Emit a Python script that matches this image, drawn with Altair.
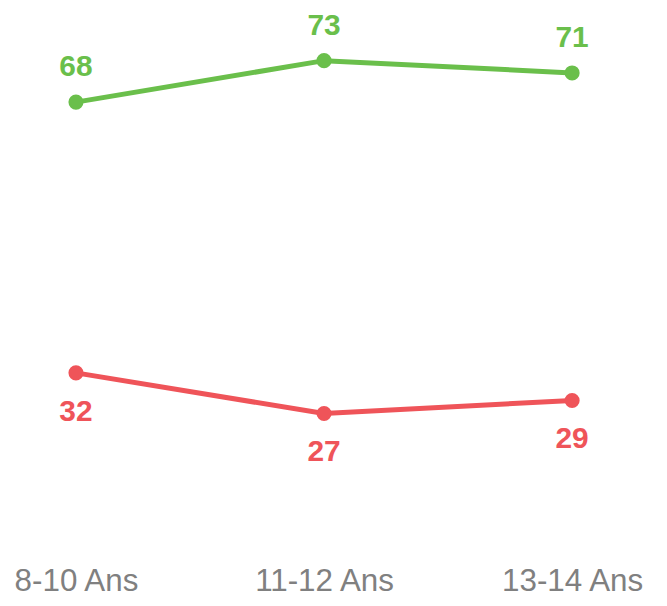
import altair as alt
import pandas as pd

categories = ["8-10 Ans", "11-12 Ans", "13-14 Ans"]
series_names = ["Série 1", "Série 2"]
green_values = [67.6, 73.0, 71.4]
red_values = [32.3, 27.0, 28.7]
colors = ["#6abf4b", "#ef5459"]

rows = []
for c, g, r in zip(categories, green_values, red_values):
    rows.append({"cat": c, "serie": series_names[0], "val": g})
    rows.append({"cat": c, "serie": series_names[1], "val": r})
df = pd.DataFrame(rows)

x = alt.X(
    "cat:N",
    sort=categories,
    scale=alt.Scale(type="point", padding=0.27),
    axis=alt.Axis(
        labelAngle=0, domain=False, ticks=False, tickSize=0, grid=False, title=None,
        labelFontSize=31.5, labelColor="#808080", labelFont="Liberation Sans",
        labelPadding=22,
    ),
)
y = alt.Y("val:Q", scale=alt.Scale(domain=[10, 78], nice=False, zero=False), axis=None)
color = alt.Color("serie:N", scale=alt.Scale(domain=series_names, range=colors), legend=None)

base = alt.Chart(df).encode(x=x, y=y, color=color)

lines = base.mark_line(strokeWidth=5)
points = base.mark_circle(size=230, opacity=1)
text_top = base.transform_filter(alt.datum.serie == series_names[0]).mark_text(
    fontSize=30, fontWeight="bold", font="Liberation Sans", baseline="alphabetic", dy=-26
).encode(text=alt.Text("val:Q", format=".0f"))
text_bot = base.transform_filter(alt.datum.serie == series_names[1]).mark_text(
    fontSize=30, fontWeight="bold", font="Liberation Sans", baseline="alphabetic", dy=48
).encode(text=alt.Text("val:Q", format=".0f"))

chart = (
    alt.layer(lines, points, text_top, text_bot)
    .properties(
        width=633,
        height=524,
        autosize=alt.AutoSizeParams(type="none"),
        padding={"top": 13, "left": 1, "right": 20, "bottom": 60},
    )
    .configure_view(stroke=None)
)

chart.save("out.html", embed_options={"renderer": "svg", "actions": False})
